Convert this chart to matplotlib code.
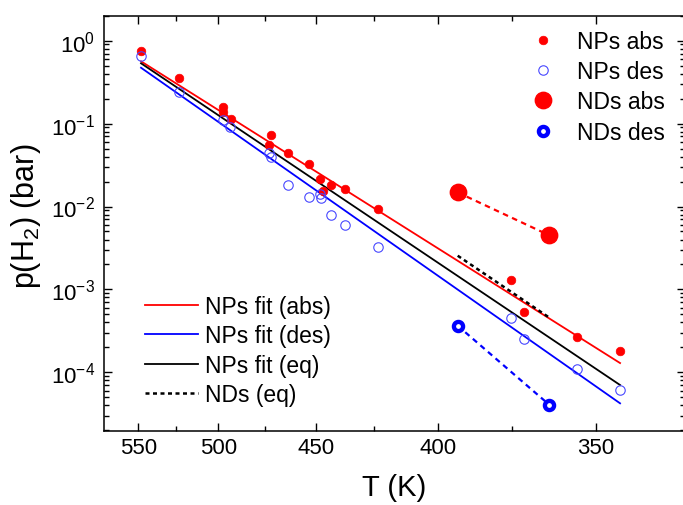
import numpy as np
import matplotlib
matplotlib.use("Agg")
import matplotlib.pyplot as plt
from matplotlib.ticker import FixedLocator, FixedFormatter, LogLocator, NullFormatter

plt.rcParams['font.family'] = ['Liberation Sans', 'DejaVu Sans']
plt.rcParams['mathtext.fontset'] = 'custom'
plt.rcParams['mathtext.rm'] = 'Liberation Sans'
plt.rcParams['mathtext.it'] = 'Liberation Sans:italic'
plt.rcParams['mathtext.bf'] = 'Liberation Sans:bold'

# ---- data (T in K, p in bar) ----
T_np_abs = [548.2, 523.2, 497.2, 497.2, 492.9, 472.0, 473.0, 463.2, 453.2,
            448.2, 447.0, 443.3, 437.1, 423.4, 375.2, 371.2, 355.3, 343.3]
p_np_abs = [0.76, 0.352, 0.157, 0.139, 0.114, 0.0735, 0.0556, 0.0442, 0.0326,
            0.0215, 0.0155, 0.0183, 0.0163, 0.0094, 0.0013, 0.00054, 0.00027, 0.00018]

T_np_des = [548.2, 523.2, 497.2, 493.5, 472.8, 472.0, 463.2, 453.2, 448.2,
            447.6, 443.3, 437.1, 423.4, 375.2, 371.2, 355.3, 343.3]
p_np_des = [0.648, 0.2425, 0.1114, 0.0902, 0.0442, 0.0401, 0.01817, 0.01313, 0.01416,
            0.01266, 0.00796, 0.00603, 0.00322, 0.000456, 0.00025, 0.0001096, 6.17e-5]

T_nd = [393.1, 363.4]
p_nd_abs = [0.0148, 0.0045]
p_nd_des = [0.000365, 4.07e-5]
T_nd_eq = [393.1, 363.1]
p_nd_eq = [0.00255, 0.00045]

T_fit = [548.2, 343.3]
p_fit_abs = [0.564, 1.294e-4]
p_fit_des = [0.472, 4.23e-5]
p_fit_eq = [0.534, 7.03e-5]

T_major = [550, 500, 450, 400, 350]
T_minor = [525, 475, 425, 375]
T_tick_labels = ['550', '500', '450', '400', '350']

def inv(T):
    return 1000.0 / np.asarray(T, dtype=float)

W, H = 683, 506
fig = plt.figure(figsize=(W / 100, H / 100), dpi=100)
ax_left, ax_right, ax_top, ax_bot = 104, 685, 16.7, 431.7
ax = fig.add_axes([ax_left / W, 1 - ax_bot / H, (ax_right - ax_left) / W, (ax_bot - ax_top) / H])

red = '#FF0000'
blue = '#0000FF'
lblue = '#4848FF'

l_fa, = ax.plot(inv(T_fit), p_fit_abs, color=red, lw=1.3, label='NPs fit (abs)', zorder=2)
l_fd, = ax.plot(inv(T_fit), p_fit_des, color=blue, lw=1.3, label='NPs fit (des)', zorder=2)
l_fe, = ax.plot(inv(T_fit), p_fit_eq, color='black', lw=1.3, label='NPs fit (eq)', zorder=2)
l_ne, = ax.plot(inv(T_nd_eq), p_nd_eq, color='black', lw=1.8, ls=(0, (1.6, 1.4)),
                label='NDs (eq)', zorder=2)

ax.plot(inv(T_nd), p_nd_abs, color=red, lw=1.6, ls=(0, (2.5, 2.0)), zorder=2)
ax.plot(inv(T_nd), p_nd_des, color=blue, lw=1.6, ls=(0, (2.5, 2.0)), zorder=2)

m_na, = ax.plot(inv(T_np_abs), p_np_abs, 'o', color=red, ms=6.2, mec=red, mew=0.5,
                ls='none', label='NPs abs', zorder=3)
m_nd, = ax.plot(inv(T_np_des), p_np_des, 'o', mfc='none', mec=lblue, ms=6.8, mew=0.8,
                ls='none', label='NPs des', zorder=3)
m_da, = ax.plot(inv(T_nd), p_nd_abs, 'o', color=red, ms=11.8, mec=red,
                ls='none', label='NDs abs', zorder=4)
m_dd, = ax.plot(inv(T_nd), p_nd_des, 'o', mfc='white', mec=blue, ms=6.6, mew=3.1,
                ls='none', label='NDs des', zorder=4)

# axes scales / limits
ax.set_yscale('log')
ax.set_xlim(1.740, 1.818 + (ax_right - 138.3) / 440)
ax.set_ylim(10 ** (-4.704), 10 ** 0.3016)

ax.xaxis.set_major_locator(FixedLocator(inv(T_major)))
ax.xaxis.set_major_formatter(FixedFormatter(T_tick_labels))
ax.xaxis.set_minor_locator(FixedLocator(inv(T_minor)))
ax.yaxis.set_major_locator(LogLocator(base=10, numticks=20))
ax.yaxis.set_minor_locator(LogLocator(base=10, subs=np.arange(2, 10), numticks=20))
ax.yaxis.set_minor_formatter(NullFormatter())

ax.tick_params(which='both', direction='in', top=True, right=True, width=1.0)
ax.tick_params(which='major', length=6, labelsize=16)
ax.tick_params(axis='x', which='major', pad=4.5)
ax.tick_params(axis='y', which='major', pad=6.5)
ax.tick_params(which='minor', length=3.5)
for s in ax.spines.values():
    s.set_linewidth(1.1)

ax.set_xlabel('T (K)', fontsize=21)
ax.set_ylabel('p(H$_2$) (bar)', fontsize=22)
ax.xaxis.set_label_coords(0.5, -0.102)
ax.yaxis.set_label_coords(-0.105, 0.52)

def fpx(x, y):
    return (x / W, 1 - y / H)

leg1 = ax.legend(handles=[m_na, m_nd, m_da, m_dd], loc='upper left',
                 bbox_to_anchor=fpx(513.1, 21.6), bbox_transform=fig.transFigure,
                 frameon=False, fontsize=16.5, handlelength=1.83, handletextpad=0.58,
                 labelspacing=0.32, borderaxespad=0, numpoints=1)
ax.add_artist(leg1)
ax.legend(handles=[l_fa, l_fd, l_fe, l_ne], loc='upper left',
          bbox_to_anchor=fpx(135.8, 286.6), bbox_transform=fig.transFigure,
          frameon=False, fontsize=16.5, handlelength=2.33, handletextpad=0.29,
          labelspacing=0.28, borderaxespad=0)

fig.savefig('out.png', dpi=100)
